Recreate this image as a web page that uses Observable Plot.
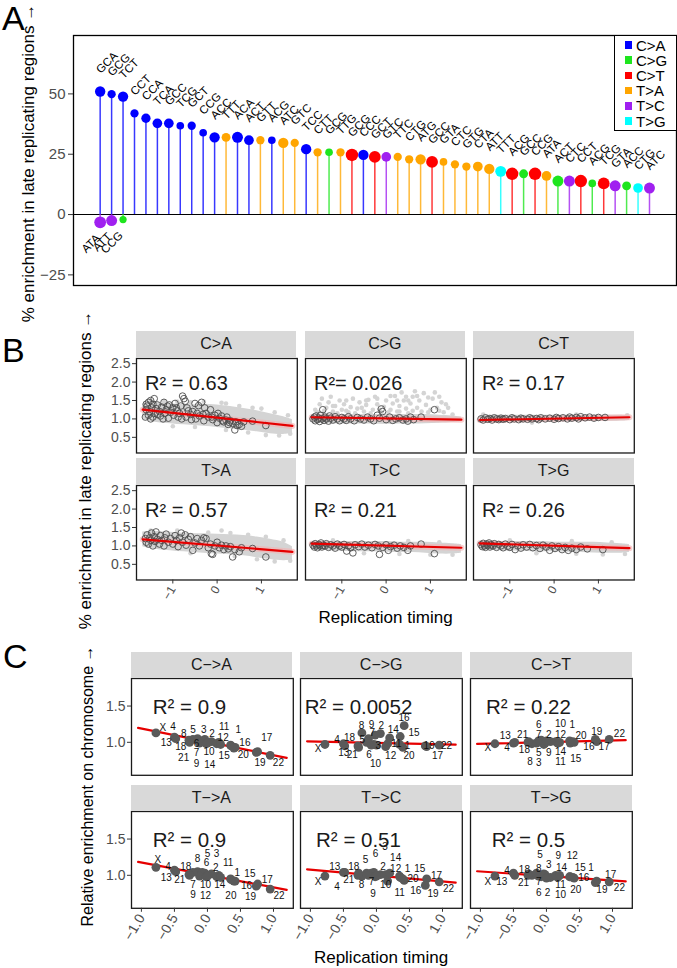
<!DOCTYPE html>
<html><head><meta charset="utf-8">
<script src="https://cdn.jsdelivr.net/npm/d3@7"></script>
<script src="https://cdn.jsdelivr.net/npm/@observablehq/plot@0.6"></script>
<style>
body{margin:0;background:#fff;}
#fig{position:relative;width:677px;height:968px;overflow:hidden;background:#fff;font-family:'Liberation Sans',Arial,Helvetica,sans-serif;color:#000;}
.abs{position:absolute;white-space:nowrap;line-height:1;}
.ctr{position:absolute;white-space:nowrap;line-height:1;transform:translate(-50%,-50%);}
.rot{position:absolute;white-space:nowrap;line-height:1;transform:translate(-50%,-50%) rotate(-90deg);}
.strip{position:absolute;background:#d9d9d9;display:flex;align-items:center;justify-content:center;font-size:16px;color:#1a1a1a;line-height:1;}
</style></head><body><div id="fig"></div>
<script>
// ================= DATA =================
// ---- Panel A ----
const mutTypes = ["C>A","C>G","C>T","T>A","T>C","T>G"];
const mutColors = ["#0000ff","#1ee51e","#ff0000","#ffa500","#a020f0","#00ffff"];
const aContexts = ["GCA","GCG","TCT","CCT","CCA","TCA","GCC","TCG","GCT","CCG","ACC","TTT","ACA","ACT","GTT","ACG","ATC","GTC","TCC","CTT","GCG","TTG","GCG","CCC","GCT","GTC","TTC","CTG","ATG","GCC","GTA","CTC","GTG","CTA","ATT","TTT","ACG","GCC","CCG","ATA","ACT","CTC","CCT","ACG","TCG","GTA","ACC","CTG","ATC"];
const aTypes = ["C>A","C>A","C>A","C>A","C>A","C>A","C>A","C>A","C>A","C>A","C>A","T>A","C>A","C>A","T>A","C>A","T>A","T>A","C>A","T>A","C>G","T>A","C>T","C>A","C>T","T>C","T>A","T>A","T>A","C>T","T>A","T>A","T>A","T>A","T>A","T>G","C>T","C>G","C>T","T>A","C>G","T>C","C>T","C>G","C>T","T>C","C>G","T>G","T>C"];
const aValues = [51.0,49.9,48.9,41.9,39.9,37.8,37.8,36.8,36.8,33.9,32.0,32.0,32.0,30.8,30.8,30.8,29.7,29.7,27.1,25.8,25.8,25.8,24.7,24.7,23.9,23.9,23.9,22.9,22.9,21.8,21.8,20.8,19.9,19.9,18.9,17.9,16.9,16.9,16.9,16.0,13.9,13.9,13.9,12.9,12.9,11.9,11.9,11.0,11.0];
const aScores = [5,4,5,4,4.5,4.7,4.7,3.7,4,3.7,5,4.3,5.3,4.7,4,3.7,5,4,5,4,3.7,4,6,5,5.7,4.7,4,4,5,5.7,3.7,4,4,4.7,5,5.3,6,4.3,6,4.7,5.3,5.3,6,3.7,5.7,5.3,4.3,4.7,5.3];
const aNegContexts = ["ATA","ATT","CCG"];
const aNegTypes = ["T>C","T>C","C>G"];
const aNegValues = [-3.2,-2.5,-2.1];
const aNegScores = [5.7,5.3,3.5];
const aYTicks = [-25,0,25,50];

// ---- Panel B ----
const bNames = ["C>A","C>G","C>T","T>A","T>C","T>G"];
const bR2 = ["R\u00b2 = 0.63","R\u00b2= 0.026","R\u00b2 = 0.17","R\u00b2 = 0.57","R\u00b2 = 0.21","R\u00b2 = 0.26"];
const bYTicks = [0.5,1.0,1.5,2.0,2.5];
const bXTicks = [-1,0,1];
const bBandX = [-1.68,-1.5,-1.2,-0.9,-0.6,-0.3,0,0.3,0.6,0.9,1.2,1.5,1.7];
const bBandHiCA = [1.40,1.45,1.42,1.40,1.38,1.40,1.38,1.34,1.28,1.22,1.14,1.06,0.98];
const bBandLoCA = [1.0,0.93,0.88,0.85,0.83,0.80,0.77,0.73,0.69,0.65,0.60,0.58,0.62];
const bBandHiCG = [1.08,1.12,1.12,1.12,1.12,1.12,1.12,1.12,1.12,1.12,1.1,1.08,1.05];
const bBandLoCG = [0.93,0.88,0.87,0.86,0.86,0.86,0.85,0.86,0.86,0.87,0.88,0.9,0.92];
const bBandHiCT = [1.08,1.1,1.1,1.1,1.1,1.1,1.1,1.1,1.1,1.1,1.1,1.1,1.08];
const bBandLoCT = [0.93,0.92,0.92,0.92,0.92,0.92,0.92,0.93,0.93,0.93,0.93,0.94,0.96];
const bBandHiTA = [1.38,1.40,1.38,1.36,1.34,1.33,1.32,1.30,1.28,1.24,1.18,1.10,0.98];
const bBandLoTA = [0.98,0.93,0.88,0.85,0.83,0.80,0.78,0.76,0.73,0.68,0.63,0.6,0.62];
const bBandHiTC = [1.1,1.12,1.12,1.12,1.12,1.12,1.12,1.1,1.1,1.1,1.08,1.06,1.04];
const bBandLoTC = [0.92,0.88,0.86,0.85,0.84,0.84,0.83,0.82,0.82,0.8,0.78,0.78,0.8];
const bBandHiTG = [1.1,1.12,1.12,1.12,1.12,1.12,1.1,1.1,1.1,1.1,1.08,1.06,1.04];
const bBandLoTG = [0.93,0.89,0.87,0.86,0.85,0.84,0.84,0.83,0.82,0.81,0.8,0.8,0.82];
const bGrayCA = [[-1.65,1.3],[-1.5,1.5],[-1.2,1.48],[-0.9,1.47],[-0.6,1.45],[-0.3,1.47],[0.1,1.44],[0.2,1.42],[0.5,1.35],[0.8,1.3],[1.0,1.28],[1.3,1.18],[1.6,1.1],[-1.0,0.8],[-0.5,0.78],[0.2,0.7],[0.7,0.63],[1.1,0.56],[1.4,0.55],[1.65,0.6]];
const bGrayCG = [[-1.6,1.25],[-1.5,1.4],[-1.45,1.55],[-1.35,1.3],[-1.3,1.45],[-1.25,1.6],[-1.2,1.2],[-1.15,1.35],[-1.05,1.5],[-1.0,1.25],[-0.95,1.4],[-0.85,1.18],[-0.8,1.32],[-0.75,1.55],[-0.65,1.28],[-0.6,1.45],[-0.5,1.2],[-0.45,1.38],[-0.4,1.52],[-0.3,1.25],[-0.25,1.6],[-0.2,1.4],[-0.1,1.18],[-0.05,1.33],[0.0,1.5],[0.1,1.25],[0.15,1.42],[0.2,1.62],[0.25,1.2],[0.3,1.35],[0.35,1.72],[0.4,1.5],[0.45,1.28],[0.5,1.15],[0.55,1.42],[0.6,1.6],[0.65,1.75],[0.7,1.3],[0.75,1.5],[0.8,1.2],[0.85,1.7],[0.9,1.38],[1.0,1.25],[1.05,1.55],[1.1,1.72],[1.15,1.3],[1.25,1.45],[1.3,1.18],[1.4,1.3],[1.5,1.12],[-1.55,1.18],[-1.4,1.22],[-1.1,1.15],[-0.9,1.22],[-0.7,1.15],[-0.55,1.3],[-0.35,1.15],[-0.15,1.25],[0.05,1.18],[0.3,1.2],[0.45,1.6],[0.6,1.22],[0.95,1.18],[1.2,1.22],[1.35,1.4],[-0.2,1.55],[0.1,1.62],[0.5,1.5],[-0.9,1.5],[-1.2,1.35],[0.95,1.58],[1.2,1.6],[0.7,1.62],[0.25,1.5],[-0.45,1.5]];
const bGrayCT = [[-1.6,1.12],[1.65,1.1],[0.5,1.12],[-0.5,0.9]];
const bGrayTA = [[-1.5,1.42],[-0.9,1.42],[-0.2,1.36],[0.1,1.42],[0.3,1.35],[0.7,1.3],[1.1,1.25],[1.5,1.15],[1.65,0.6],[1.3,0.58],[0.9,0.64],[0.4,0.72],[-0.6,0.8]];
const bGrayTC = [[-1.2,1.15],[0.5,1.13],[1.2,1.1],[-0.5,0.8],[0.3,0.78],[1.0,0.76],[1.5,0.76]];
const bGrayTG = [[-1.0,1.15],[0.4,1.13],[1.3,1.1],[-0.4,0.8],[0.5,0.79],[1.1,0.77],[1.6,0.78]];
const bOpenCA = [[-1.62,1.05],[-1.6,1.25],[-1.6,1.4],[-1.58,1.35],[-1.55,1.1],[-1.55,1.45],[-1.52,1.2],[-1.5,1.5],[-1.5,1.0],[-1.48,1.3],[-1.45,1.05],[-1.45,1.4],[-1.42,1.55],[-1.4,1.15],[-1.38,1.28],[-1.35,1.38],[-1.35,1.12],[-1.3,1.2],[-1.28,1.08],[-1.25,1.32],[-1.22,1.0],[-1.2,1.45],[-1.18,1.15],[-1.15,1.25],[-1.12,1.35],[-1.1,1.02],[-1.08,1.38],[-1.05,1.18],[-1.0,1.3],[-0.98,1.1],[-0.95,1.42],[-0.92,1.3],[-0.9,1.22],[-0.88,1.05],[-0.85,1.15],[-0.82,1.35],[-0.8,1.0],[-0.78,1.62],[-0.75,1.55],[-0.72,1.48],[-0.7,1.05],[-0.68,1.3],[-0.65,1.22],[-0.6,1.12],[-0.58,0.98],[-0.55,1.2],[-0.5,1.42],[-0.48,1.0],[-0.45,1.15],[-0.42,1.36],[-0.4,1.08],[-0.35,1.45],[-0.32,1.12],[-0.3,0.95],[-0.28,1.3],[-0.25,1.15],[-0.2,1.05],[-0.15,1.25],[-0.12,1.05],[-0.1,0.98],[-0.05,1.1],[0.0,0.9],[0.02,1.15],[0.05,1.02],[0.1,1.08],[0.12,0.95],[0.15,0.92],[0.2,0.97],[0.22,1.05],[0.25,0.85],[0.28,0.9],[0.3,0.95],[0.35,0.88],[0.4,0.7],[0.42,0.92],[0.45,0.82],[0.5,0.85],[0.55,0.8],[0.6,0.92],[0.8,0.94],[1.1,0.82]];
const bOpenCG = [[-1.65,1.0],[-1.62,1.05],[-1.6,0.95],[-1.58,1.08],[-1.55,0.98],[-1.52,1.02],[-1.5,0.93],[-1.48,1.1],[-1.45,1.0],[-1.43,1.25],[-1.4,0.96],[-1.38,1.05],[-1.35,1.0],[-1.3,0.94],[-1.28,1.08],[-1.25,1.02],[-1.2,0.97],[-1.15,1.06],[-1.1,1.0],[-1.05,0.95],[-1.0,1.04],[-0.95,1.0],[-0.9,0.96],[-0.85,1.06],[-0.8,1.0],[-0.72,0.95],[-0.65,1.04],[-0.58,1.0],[-0.5,0.97],[-0.42,1.05],[-0.35,1.0],[-0.28,0.95],[-0.2,1.1],[-0.15,1.02],[-0.11,1.27],[-0.08,1.2],[0.0,0.98],[0.08,1.05],[0.15,0.96],[0.22,1.0],[0.3,1.03],[0.38,0.97],[0.45,1.0],[0.49,0.94],[0.55,1.05],[0.62,0.98],[0.79,1.05],[1.09,1.25]];
const bOpenCT = [[-1.65,1.0],[-1.6,0.97],[-1.55,1.03],[-1.5,0.99],[-1.45,1.01],[-1.4,0.97],[-1.35,1.03],[-1.3,1.0],[-1.25,0.98],[-1.2,1.02],[-1.15,0.99],[-1.1,1.01],[-1.0,0.98],[-0.95,1.03],[-0.9,1.0],[-0.8,0.98],[-0.75,1.02],[-0.7,1.0],[-0.6,0.99],[-0.55,1.03],[-0.5,1.0],[-0.4,1.01],[-0.35,0.98],[-0.3,1.03],[-0.2,1.0],[-0.1,1.02],[0.0,0.99],[0.05,1.04],[0.1,1.01],[0.2,1.03],[0.3,1.0],[0.35,1.05],[0.4,1.02],[0.5,1.04],[0.55,1.0],[0.6,1.06],[0.7,1.03],[0.8,1.05],[0.9,1.02],[1.0,1.04],[1.15,1.04]];
const bOpenTA = [[-1.62,1.2],[-1.6,1.1],[-1.58,1.3],[-1.55,1.05],[-1.52,1.22],[-1.5,1.15],[-1.48,1.35],[-1.45,1.0],[-1.42,1.25],[-1.4,1.12],[-1.38,1.38],[-1.35,1.18],[-1.3,1.05],[-1.28,1.28],[-1.25,1.15],[-1.2,1.0],[-1.18,1.22],[-1.15,1.32],[-1.1,1.1],[-1.05,1.2],[-1.0,1.05],[-0.95,1.28],[-0.92,1.15],[-0.88,0.98],[-0.85,1.22],[-0.81,1.35],[-0.78,1.1],[-0.72,1.3],[-0.7,1.02],[-0.65,1.18],[-0.6,1.25],[-0.55,0.88],[-0.5,1.08],[-0.45,1.2],[-0.4,1.0],[-0.35,1.15],[-0.3,1.22],[-0.25,1.2],[-0.2,0.95],[-0.15,1.05],[-0.13,0.79],[-0.1,0.77],[-0.05,1.0],[0.0,1.1],[0.05,0.95],[0.1,1.02],[0.15,0.9],[0.2,1.0],[0.25,0.92],[0.3,0.98],[0.35,0.7],[0.4,0.9],[0.5,0.84],[0.55,0.95],[0.8,0.93],[1.1,0.7]];
const bOpenTC = [[-1.65,1.02],[-1.62,0.97],[-1.6,1.06],[-1.57,1.0],[-1.55,0.95],[-1.52,1.04],[-1.5,1.0],[-1.47,1.08],[-1.45,0.97],[-1.42,1.02],[-1.38,1.0],[-1.35,1.06],[-1.3,0.96],[-1.25,1.03],[-1.2,1.0],[-1.15,0.94],[-1.1,1.05],[-1.05,1.0],[-1.0,0.97],[-0.95,1.04],[-0.89,0.86],[-0.85,1.0],[-0.8,0.95],[-0.75,0.81],[-0.7,1.03],[-0.62,0.98],[-0.55,1.05],[-0.48,0.97],[-0.4,1.02],[-0.32,0.95],[-0.25,1.04],[-0.18,1.0],[-0.15,0.77],[-0.08,0.96],[0.0,1.03],[0.05,0.88],[0.1,0.98],[0.18,1.02],[0.25,0.94],[0.32,1.0],[0.4,0.96],[0.49,0.88],[0.55,1.0],[0.79,1.05],[1.09,0.79]];
const bOpenTG = [[-1.65,1.03],[-1.62,0.98],[-1.6,1.07],[-1.57,1.0],[-1.55,0.96],[-1.52,1.05],[-1.5,1.01],[-1.47,1.08],[-1.45,0.97],[-1.42,1.03],[-1.38,1.0],[-1.35,1.06],[-1.3,0.96],[-1.25,1.04],[-1.2,1.0],[-1.15,0.95],[-1.1,1.05],[-1.05,0.99],[-1.0,0.96],[-0.95,1.04],[-0.88,0.9],[-0.82,1.0],[-0.75,0.94],[-0.7,1.03],[-0.62,0.97],[-0.55,1.04],[-0.48,0.95],[-0.4,1.01],[-0.32,0.93],[-0.25,1.02],[-0.18,0.97],[-0.1,0.88],[-0.05,1.0],[0.02,0.93],[0.1,0.98],[0.18,0.9],[0.25,0.96],[0.32,0.88],[0.4,0.94],[0.5,0.9],[0.6,0.97],[0.75,0.92],[1.1,0.9]];
const bFitCA = [[-1.68,1.25],[1.7,0.81]];
const bFitCG = [[-1.68,1.045],[1.7,0.98]];
const bFitCT = [[-1.68,0.97],[1.7,1.045]];
const bFitTA = [[-1.68,1.18],[1.7,0.84]];
const bFitTC = [[-1.68,1.06],[1.7,0.95]];
const bFitTG = [[-1.68,1.07],[1.7,0.94]];

// ---- Panel C ----
const cNames = ["C\u2212>A","C\u2212>G","C\u2212>T","T\u2212>A","T\u2212>C","T\u2212>G"];
const cR2 = ["R\u00b2 = 0.9","R\u00b2 = 0.0052","R\u00b2 = 0.22","R\u00b2 = 0.9","R\u00b2 = 0.51","R\u00b2 = 0.5"];
const cYTicks = [1.0,1.5];
const cXTicks = [-1,-0.5,0,0.5,1];
const chromNames = ["1","2","3","4","5","6","7","8","9","10","11","12","13","14","15","16","17","18","19","20","21","22","X"];
const chromTiming = [0.35,0.06,-0.04,-0.50,-0.15,-0.08,-0.12,-0.22,-0.02,0.0,0.17,0.14,-0.48,0.2,0.36,0.42,0.76,-0.28,0.74,0.40,-0.27,0.95,-0.78];
const cEnrichCA = [0.96,1.01,1.04,1.07,1.05,1.02,0.99,1.04,0.98,0.99,1.0,0.98,1.05,0.97,0.95,0.93,0.87,1.03,0.86,0.92,1.0,0.82,1.13];
const cEnrichCG = [0.97,1.12,0.97,0.98,1.0,0.96,1.05,1.13,1.10,0.96,0.98,0.94,0.95,1.06,1.08,1.23,0.94,0.95,0.95,0.93,0.93,0.96,0.97];
const cEnrichCT = [1.02,1.01,0.97,0.99,0.99,1.03,1.02,0.98,0.99,1.02,0.99,1.01,1.0,1.0,0.99,1.0,1.01,1.0,1.04,1.01,1.01,1.04,0.98];
const cEnrichTA = [0.95,1.02,1.03,1.07,1.05,1.04,0.99,1.04,0.98,0.99,1.0,0.98,1.05,0.97,0.94,0.92,0.88,1.01,0.85,0.92,1.0,0.81,1.11];
const cEnrichTC = [0.99,1.01,1.04,1.04,1.03,1.03,1.0,0.99,0.98,0.99,0.92,1.01,1.04,1.03,0.97,0.93,0.95,1.0,0.86,0.95,1.03,0.91,0.99];
const cEnrichTG = [0.98,0.97,1.02,1.03,1.03,0.98,0.99,1.0,1.01,0.96,0.97,1.0,1.0,1.0,0.98,0.96,0.92,1.0,0.90,0.97,1.02,0.91,0.99];
const cLabelCA = [[0.466,1.176],[0.071,1.116],[-0.056,1.176],[-0.522,1.208],[-0.218,1.176],[-0.167,0.986],[-0.167,0.852],[-0.36,1.116],[-0.167,0.704],[0.025,0.870],[0.253,1.218],[0.238,1.069],[-0.623,1.0],[0.035,0.690],[0.253,0.815],[0.567,1.0],[0.897,1.056],[-0.405,0.944],[0.795,0.722],[0.542,0.829],[-0.36,0.792],[1.074,0.722],[-0.674,1.194]];
const cLabelCG = [[0.469,0.954],[0.073,1.231],[0.028,0.954],[-0.595,1.037],[-0.215,1.037],[-0.114,0.829],[-0.063,1.130],[-0.225,1.222],[-0.073,1.241],[-0.013,0.699],[0.301,0.977],[0.215,0.815],[-0.494,0.852],[0.256,1.176],[0.57,1.130],[0.418,1.333],[0.924,0.815],[-0.408,1.069],[0.798,0.954],[0.494,0.815],[-0.367,0.824],[1.06,0.954],[-0.884,0.917]];
const cLabelCT = [[0.39,1.246],[0.035,1.107],[-0.116,0.714],[-0.597,0.922],[-0.116,0.853],[-0.116,1.246],[-0.116,1.107],[-0.248,0.737],[0.035,0.853],[0.213,1.26],[0.213,0.737],[0.213,1.107],[-0.624,1.093],[0.213,0.876],[0.445,0.769],[0.643,0.932],[0.874,0.932],[-0.334,0.899],[0.761,1.14],[0.524,1.093],[-0.36,1.107],[1.105,1.121],[-0.888,0.922]];
const cLabelTA = [[0.451,1.037],[0.127,1.097],[0.137,1.301],[-0.598,1.12],[0.0,1.301],[-0.015,1.167],[-0.218,0.875],[-0.152,1.222],[-0.218,0.736],[-0.03,0.875],[0.314,1.176],[-0.03,0.722],[-0.623,0.968],[0.187,0.875],[0.643,1.014],[0.593,0.861],[0.907,0.935],[-0.329,1.12],[0.653,0.704],[0.355,0.713],[-0.42,0.935],[1.084,0.713],[-0.75,1.208]];
const cLabelTC = [[0.469,1.093],[0.099,1.12],[0.129,1.398],[-0.595,0.843],[-0.165,1.213],[-0.013,1.301],[-0.073,0.907],[-0.225,0.875],[-0.053,0.75],[0.139,0.875],[0.352,0.759],[0.291,1.093],[-0.631,1.116],[0.291,1.245],[0.656,1.093],[0.595,0.792],[0.909,1.0],[-0.342,1.116],[0.858,0.75],[0.555,0.954],[-0.418,0.935],[1.092,0.815],[-0.884,0.907]];
const cLabelTG = [[0.675,1.102],[0.015,0.755],[0.035,1.148],[-0.597,1.065],[-0.096,1.287],[-0.116,0.755],[-0.116,0.917],[-0.116,1.088],[0.181,1.264],[0.213,0.731],[0.213,0.87],[0.392,1.264],[-0.676,0.917],[0.228,1.102],[0.511,1.102],[0.564,0.963],[0.972,1.009],[-0.334,1.08],[0.84,0.801],[0.445,0.801],[-0.347,0.894],[1.105,0.824],[-0.888,0.917]];
const cFitCA = [[-1.05,1.20],[1.2,0.785]];
const cFitCG = [[-1.05,1.013],[1.2,0.968]];
const cFitCT = [[-1.05,0.978],[1.2,1.03]];
const cFitTA = [[-1.05,1.185],[1.2,0.80]];
const cFitTC = [[-1.05,1.083],[1.2,0.898]];
const cFitTG = [[-1.05,1.056],[1.2,0.917]];

// ================= RENDER =================
const FONT = "'Liberation Sans', Arial, Helvetica, sans-serif";
const fig = document.getElementById("fig");
function place(node, left, top) {
  node.style.position = "absolute";
  node.style.left = left + "px";
  node.style.top = top + "px";
  fig.appendChild(node);
  return node;
}
function div(cls, text, css) {
  const d = document.createElement("div");
  d.className = cls;
  d.textContent = text;
  Object.assign(d.style, css);
  fig.appendChild(d);
  return d;
}
const pts = arr => arr.map(([x, y]) => ({x, y}));

// ---------- Panel A ----------
const aPos = aContexts.map((ctx, i) => ({idx: i + 1, ctx, type: aTypes[i], value: aValues[i], score: aScores[i]}));
const aNeg = aNegContexts.map((ctx, i) => ({idx: i + 1, ctx, type: aNegTypes[i], value: aNegValues[i], score: aNegScores[i]}));
const aAll = aPos.concat(aNeg);
const plotA = Plot.plot({
  width: 677, height: 292,
  marginLeft: 73, marginRight: 1, marginTop: 35, marginBottom: 7,
  x: {domain: [-1.33, 51.36], axis: null},
  y: {domain: [-29.4, 74.2], axis: null},
  color: {domain: mutTypes, range: mutColors},
  r: {type: "linear", domain: [0, 6], range: [0, 6.2]},
  style: {background: "transparent", overflow: "visible", fontFamily: FONT},
  marks: [
    Plot.ruleY([0], {stroke: "#000", strokeWidth: 1.1}),
    Plot.ruleX(aAll, {x: "idx", y1: 0, y2: "value", stroke: "type", strokeWidth: 1.5, strokeOpacity: 0.78}),
    Plot.dot(aAll, {x: "idx", y: "value", r: "score", fill: "type"}),
    Plot.text(aPos, {x: "idx", y: "value", text: "ctx", rotate: -45, textAnchor: "start", dx: -2, dy: -20, fontSize: 11.5, fill: "#000"}),
    Plot.text(aNeg, {x: "idx", y: "value", text: "ctx", rotate: -45, textAnchor: "end", dx: -2, dy: 14, fontSize: 11.5, fill: "#000"}),
    Plot.frame({stroke: "#000", strokeWidth: 1.3}),
    Plot.axisY(aYTicks, {tickFormat: d3.format("d"), tickSize: 5, tickPadding: 3, fontSize: 15, fill: "#4d4d4d", stroke: "#333", label: null})
  ]
});
place(plotA, 0, 0);

// legend
const leg = document.createElement("div");
Object.assign(leg.style, {position: "absolute", left: "613.5px", top: "34.5px", width: "63px", height: "96px", boxSizing: "border-box", border: "1.5px solid #000", background: "#fff"});
mutTypes.forEach((t, i) => {
  const row = document.createElement("div");
  Object.assign(row.style, {position: "absolute", left: "0px", top: (2 + i * 15.2) + "px", height: "15px", display: "flex", alignItems: "center", fontSize: "15px", lineHeight: "1"});
  const sw = document.createElement("span");
  Object.assign(sw.style, {display: "inline-block", width: "7.5px", height: "7.5px", background: mutColors[i], marginLeft: "10px", marginRight: "4px"});
  const tx = document.createElement("span");
  tx.textContent = t;
  row.appendChild(sw); row.appendChild(tx);
  leg.appendChild(row);
});
fig.appendChild(leg);

// ---------- facet helper ----------
function facetPlot(o) {
  const ml = 50, mr = 6, mt = 6, mb = 50;
  const marks = [...o.marks, Plot.frame({stroke: "#1a1a1a", strokeWidth: 1.3})];
  if (o.yTicks) marks.push(Plot.axisY(o.yTicks, {tickFormat: d3.format(".1f"), tickSize: 4, tickPadding: 2, fontSize: o.yFont, fill: "#4d4d4d", stroke: "#333", label: null}));
  if (o.xTicks) marks.push(Plot.axisX(o.xTicks, {tickFormat: o.xFmt, tickSize: 4, tickPadding: 3, fontSize: o.xFont, tickRotate: -60, fill: "#4d4d4d", stroke: "#333", label: null}));
  const svg = Plot.plot({
    width: o.w + ml + mr, height: o.h + mt + mb,
    marginLeft: ml, marginRight: mr, marginTop: mt, marginBottom: mb,
    x: {domain: o.xDomain, axis: null},
    y: {domain: o.yDomain, axis: null},
    style: {background: "transparent", overflow: "visible", fontFamily: FONT},
    marks
  });
  place(svg, o.left - ml, o.top - mt);
}

// ---------- Panel B ----------
const bBandHi = [bBandHiCA, bBandHiCG, bBandHiCT, bBandHiTA, bBandHiTC, bBandHiTG];
const bBandLo = [bBandLoCA, bBandLoCG, bBandLoCT, bBandLoTA, bBandLoTC, bBandLoTG];
const bGray = [bGrayCA, bGrayCG, bGrayCT, bGrayTA, bGrayTC, bGrayTG];
const bOpen = [bOpenCA, bOpenCG, bOpenCT, bOpenTA, bOpenTC, bOpenTG];
const bFit = [bFitCA, bFitCG, bFitCT, bFitTA, bFitTC, bFitTG];
const bColLeft = [135.7, 304.5, 473.2], bW = 160.8;
const bStripTop = [331, 458], bBoxTop = [357.5, 484.5], bH = 94.5, stripH = 26.5;
bNames.forEach((name, k) => {
  const col = k % 3, row = Math.floor(k / 3);
  const band = bBandX.map((x, i) => ({x, lo: bBandLo[k][i], hi: bBandHi[k][i]}));
  const fit = pts(bFit[k]);
  facetPlot({
    left: bColLeft[col], top: bBoxTop[row], w: bW, h: bH,
    xDomain: [-1.82, 1.81], yDomain: [0.075, 2.64],
    yTicks: col === 0 ? bYTicks : null, yFont: 14,
    xTicks: row === 1 ? bXTicks : null, xFmt: d3.format("d"), xFont: 12,
    marks: [
      Plot.areaY(band, {x: "x", y1: "lo", y2: "hi", fill: "#d4d4d4", curve: "catmull-rom"}),
      Plot.dot(pts(bGray[k]), {x: "x", y: "y", r: 2.3, fill: "#d4d4d4"}),
      Plot.line(fit, {x: "x", y: "y", stroke: "#f3b0b0", strokeWidth: 6, strokeOpacity: 0.6}),
      Plot.dot(pts(bOpen[k]), {x: "x", y: "y", r: 3.3, stroke: "#4d4d4d", strokeWidth: 0.9, fill: "none"}),
      Plot.line(fit, {x: "x", y: "y", stroke: "#e50000", strokeWidth: 2.2}),
      Plot.text([bR2[k]], {frameAnchor: "top-left", text: d => d, dx: 8.5, dy: 17, textAnchor: "start", fontSize: 20, fill: "#1a1a1a"})
    ]
  });
  div("strip", name, {left: bColLeft[col] + "px", top: bStripTop[row] + "px", width: bW + "px", height: stripH + "px"});
});

// ---------- Panel C ----------
const cEnrich = [cEnrichCA, cEnrichCG, cEnrichCT, cEnrichTA, cEnrichTC, cEnrichTG];
const cLabel = [cLabelCA, cLabelCG, cLabelCT, cLabelTA, cLabelTC, cLabelTG];
const cFit = [cFitCA, cFitCG, cFitCT, cFitTA, cFitTC, cFitTG];
const cColLeft = [130.5, 300.3, 470.2], cW = 161.8;
const cStripTop = [651.7, 784.5], cBoxTop = [678.3, 811], cH = 96.8;
cNames.forEach((name, k) => {
  const col = k % 3, row = Math.floor(k / 3);
  const chrom = chromNames.map((c, i) => ({chrom: c, x: chromTiming[i], y: cEnrich[k][i], lx: cLabel[k][i][0], ly: cLabel[k][i][1]}));
  facetPlot({
    left: cColLeft[col], top: cBoxTop[row], w: cW, h: cH,
    xDomain: [-1.15, 1.30], yDomain: [0.545, 1.88],
    yTicks: col === 0 ? cYTicks : null, yFont: 14,
    xTicks: row === 1 ? cXTicks : null, xFmt: d3.format(".1f"), xFont: 14,
    marks: [
      Plot.line(pts(cFit[k]), {x: "x", y: "y", stroke: "#e60000", strokeWidth: 2.2}),
      Plot.dot(chrom, {x: "x", y: "y", r: 4.4, fill: "#5a5a5a"}),
      Plot.text(chrom, {x: "lx", y: "ly", text: "chrom", fontSize: 10, fill: "#111"}),
      Plot.text([cR2[k]], {frameAnchor: "top-left", text: d => d, dx: 58, dy: 21, textAnchor: "middle", fontSize: 20.5, fill: "#1a1a1a"})
    ]
  });
  div("strip", name, {left: cColLeft[col] + "px", top: cStripTop[row] + "px", width: cW + "px", height: stripH + "px"});
});

// ---------- titles and panel letters ----------
div("abs", "A", {left: "2px", top: "1px", fontSize: "34px"});
div("abs", "B", {left: "2px", top: "333px", fontSize: "34px"});
div("abs", "C", {left: "3px", top: "639px", fontSize: "34px"});
div("rot", "% enrichment in late replicating regions \u2192", {left: "28px", top: "163px", fontSize: "17px"});
div("rot", "% enrichment in late replicating regions \u2192", {left: "84.5px", top: "470px", fontSize: "17px"});
div("rot", "Relative enrichment on chromosome \u2192", {left: "87.5px", top: "786px", fontSize: "16px"});
div("ctr", "Replication timing", {left: "385.5px", top: "617px", fontSize: "17px"});
div("ctr", "Replication timing", {left: "381px", top: "957px", fontSize: "17px"});
</script></body></html>
